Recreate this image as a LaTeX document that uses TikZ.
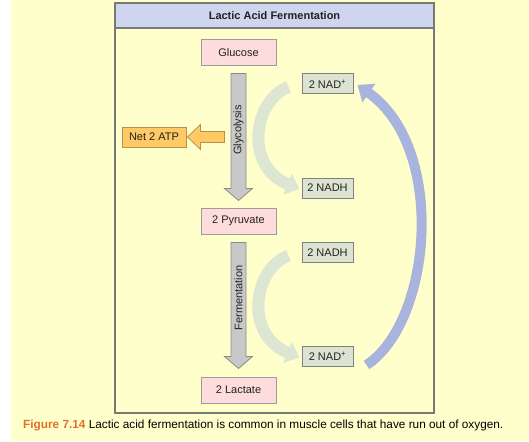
\documentclass[tikz,border=0pt]{standalone}
\usepackage{fontspec}
\setmainfont{Liberation Sans}
\usetikzlibrary{calc,arrows.meta}
\definecolor{bgyellow}{HTML}{FFFFCC}
\definecolor{titleblue}{HTML}{CFD5EE}
\definecolor{framegray}{HTML}{787878}
\definecolor{pinkfill}{HTML}{FDDCDC}
\definecolor{pinkdraw}{HTML}{A09A9A}
\definecolor{greenfill}{HTML}{DDE3D3}
\definecolor{greendraw}{HTML}{7E827A}
\definecolor{atpfill}{HTML}{FFC966}
\definecolor{atpdraw}{HTML}{B8904E}
\definecolor{arrowgray}{HTML}{C8C8C8}
\definecolor{arrowgraydraw}{HTML}{8A8A8A}
\definecolor{arcgreen}{HTML}{DDE5D3}
\definecolor{arcblue}{HTML}{A8B3DE}
\definecolor{figorange}{HTML}{E0702A}
\definecolor{textdark}{HTML}{222222}
\begin{document}
\begin{tikzpicture}[x=1pt,y=-1pt,
  font=\fontsize{11}{13}\selectfont, text=textdark,
  pinkbox/.style={draw=pinkdraw, line width=1pt, fill=pinkfill, minimum width=75pt, minimum height=26pt, inner sep=0pt},
  greenbox/.style={draw=greendraw, line width=1pt, fill=greenfill, minimum width=51pt, minimum height=20pt, inner sep=0pt},
  atpbox/.style={draw=atpdraw, line width=1pt, fill=atpfill, minimum width=64pt, minimum height=20pt, inner sep=0pt},
  downarrow/.style={draw=arrowgraydraw, line width=0.8pt, fill=arrowgray, line join=miter},
  greenarc/.style={draw=arcgreen, line width=12pt, -{Triangle[width=22pt,length=13pt]}},
  bluearc/.style={draw=arcblue, line width=10pt, -{Triangle[width=22pt,length=14pt]}},
  steplabel/.style={rotate=90, inner sep=0pt}
]
\useasboundingbox (0,0) rectangle (529,441);
\fill[white] (0,0) rectangle (529,441);
\fill[bgyellow] (11,0) rectangle (529,441);

% frame
\draw[framegray, line width=2pt, fill=bgyellow] (115,3.5) rectangle (434,413);
\draw[framegray, line width=2pt, fill=titleblue] (115,3.5) rectangle (434,28);
\node[font=\fontsize{11}{13}\selectfont\bfseries] (title) at (274.5,15.75) {Lactic Acid Fermentation};

% boxes
\node[pinkbox] (glucose) at (238.5,53) {Glucose};
\node[pinkbox] (pyruvate) at (238.5,221) {2 Pyruvate};
\node[pinkbox] (lactate) at (238.5,390) {2 Lactate};
\node[atpbox] (atp) at (154,137) {Net 2 ATP};
\node[greenbox] (nad1) at (327.5,84) {2 NAD\textsuperscript{+}};
\node[greenbox] (nadh1) at (327.5,188) {2 NADH};
\node[greenbox] (nadh2) at (327.5,252.5) {2 NADH};
\node[greenbox] (nad2) at (327.5,356.5) {2 NAD\textsuperscript{+}};

% gray down arrows
\draw[downarrow]
  ($(glucose.south)+(-7.5,7)$) -- ($(glucose.south)+(7.5,7)$)
  -- ($(pyruvate.north)+(7.5,-19)$) -- ($(pyruvate.north)+(14,-19)$)
  -- ($(pyruvate.north)+(0,-7)$)
  -- ($(pyruvate.north)+(-14,-19)$) -- ($(pyruvate.north)+(-7.5,-19)$) -- cycle;
\draw[downarrow]
  ($(pyruvate.south)+(-7.5,8)$) -- ($(pyruvate.south)+(7.5,8)$)
  -- ($(lactate.north)+(7.5,-20)$) -- ($(lactate.north)+(14,-20)$)
  -- ($(lactate.north)+(0,-8)$)
  -- ($(lactate.north)+(-14,-20)$) -- ($(lactate.north)+(-7.5,-20)$) -- cycle;
\node[steplabel] (glyco) at (238.5,130) {Glycolysis};
\node[steplabel] (ferm) at (238.5,298) {Fermentation};

% orange arrow to ATP
\draw[draw=atpdraw, line width=0.8pt, fill=atpfill, line join=miter]
  ($(atp.east)+(1,0)$) -- ($(atp.east)+(14,-12.5)$) -- ($(atp.east)+(14,-5.5)$)
  -- ($(atp.east)+(38,-5.5)$) -- ($(atp.east)+(38,5.5)$) -- ($(atp.east)+(14,5.5)$)
  -- ($(atp.east)+(14,12.5)$) -- cycle;

% green arcs
\draw[greenarc] ($(nad1.west)+(-13,3)$) .. controls ($(nad1.west)+(-48,16)$) and ($(nadh1.west)+(-58,-22)$) .. ($(nadh1.west)+(-2,1)$);
\draw[greenarc] ($(nadh2.west)+(-13,3)$) .. controls ($(nadh2.west)+(-48,16)$) and ($(nad2.west)+(-58,-22)$) .. ($(nad2.west)+(-2,1)$);

% blue arc
\draw[bluearc] ($(nad2.east)+(13,8.5)$) .. controls (432,322) and (447,148) .. ($(nad1.east)+(4,1)$);

% caption
\node[anchor=west, inner sep=0pt, text=black, font=\fontsize{11.8}{14}\selectfont] (caption) at (23,425) {{\bfseries\color{figorange}Figure 7.14} Lactic acid fermentation is common in muscle cells that have run out of oxygen.};
\end{tikzpicture}
\end{document}
